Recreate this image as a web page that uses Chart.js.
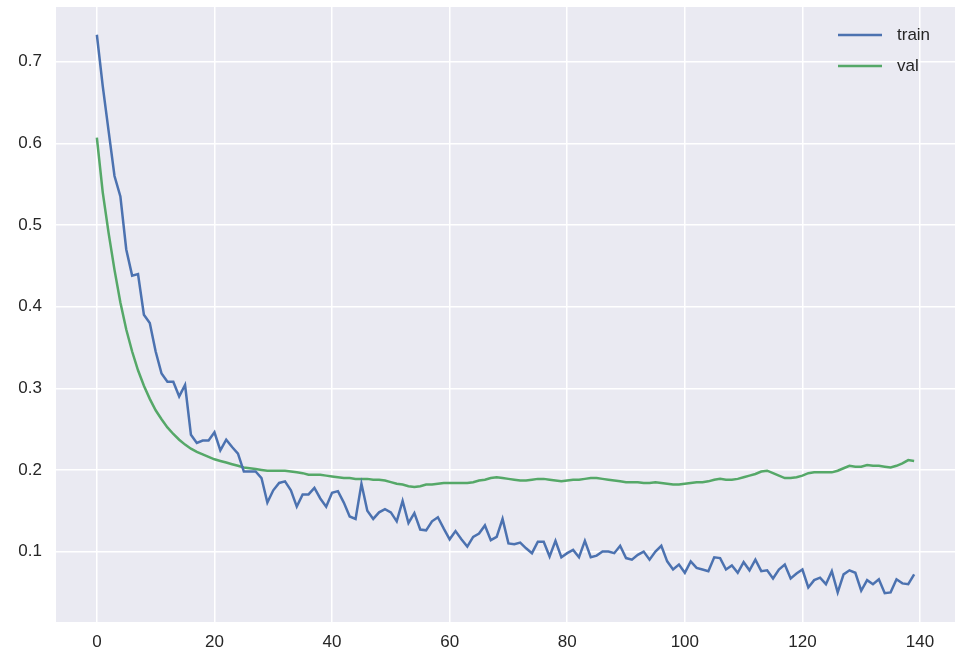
<!DOCTYPE html>
<html>
<head>
<meta charset="utf-8">
<script src="https://cdn.jsdelivr.net/npm/chart.js@4/dist/chart.umd.min.js"></script>
<style>
  html, body { margin: 0; padding: 0; background: #ffffff; }
  #wrap { width: 955px; height: 659px; }
</style>
</head>
<body>
<div id="wrap"><canvas id="chart" width="955" height="659"></canvas></div>
<script>
const xTicks = [0, 20, 40, 60, 80, 100, 120, 140];
const yTicks = [0.1, 0.2, 0.3, 0.4, 0.5, 0.6, 0.7];

const trainLoss = [
  0.733, 0.670, 0.615, 0.560, 0.535, 0.470, 0.438, 0.440, 0.390, 0.380,
  0.345, 0.318, 0.308, 0.308, 0.290, 0.304, 0.243, 0.233, 0.236, 0.236,
  0.246, 0.224, 0.237, 0.228, 0.220, 0.198, 0.198, 0.198, 0.190, 0.160,
  0.175, 0.184, 0.186, 0.175, 0.155, 0.170, 0.170, 0.178, 0.165, 0.155,
  0.172, 0.174, 0.160, 0.143, 0.140, 0.183, 0.150, 0.140, 0.148, 0.152,
  0.148, 0.137, 0.162, 0.135, 0.147, 0.127, 0.126, 0.137, 0.142, 0.128,
  0.115, 0.125, 0.115, 0.106, 0.118, 0.122, 0.132, 0.114, 0.118, 0.140,
  0.110, 0.109, 0.111, 0.104, 0.098, 0.112, 0.112, 0.094, 0.113, 0.093,
  0.098, 0.102, 0.093, 0.113, 0.093, 0.095, 0.100, 0.100, 0.098, 0.107,
  0.092, 0.090, 0.096, 0.100, 0.090, 0.100, 0.107, 0.088, 0.078, 0.084,
  0.074, 0.088, 0.080, 0.078, 0.076, 0.093, 0.092, 0.078, 0.083, 0.074,
  0.087, 0.077, 0.090, 0.076, 0.077, 0.067, 0.078, 0.084, 0.067, 0.073,
  0.078, 0.056, 0.065, 0.068, 0.060, 0.076, 0.050, 0.072, 0.077, 0.074,
  0.052, 0.065, 0.060, 0.066, 0.049, 0.050, 0.066, 0.061, 0.060, 0.072
];

const valLoss = [
  0.607, 0.540, 0.490, 0.445, 0.405, 0.372, 0.345, 0.322, 0.303, 0.287,
  0.273, 0.262, 0.252, 0.244, 0.237, 0.231, 0.226, 0.222, 0.219, 0.216,
  0.213, 0.211, 0.209, 0.207, 0.205, 0.203, 0.202, 0.201, 0.200, 0.199,
  0.199, 0.199, 0.199, 0.198, 0.197, 0.196, 0.194, 0.194, 0.194, 0.193,
  0.192, 0.191, 0.190, 0.190, 0.189, 0.189, 0.189, 0.188, 0.188, 0.187,
  0.185, 0.183, 0.182, 0.180, 0.179, 0.180, 0.182, 0.182, 0.183, 0.184,
  0.184, 0.184, 0.184, 0.184, 0.185, 0.187, 0.188, 0.190, 0.191, 0.190,
  0.189, 0.188, 0.187, 0.187, 0.188, 0.189, 0.189, 0.188, 0.187, 0.186,
  0.187, 0.188, 0.188, 0.189, 0.190, 0.190, 0.189, 0.188, 0.187, 0.186,
  0.185, 0.185, 0.185, 0.184, 0.184, 0.185, 0.184, 0.183, 0.182, 0.182,
  0.183, 0.184, 0.185, 0.185, 0.186, 0.188, 0.189, 0.188, 0.188, 0.189,
  0.191, 0.193, 0.195, 0.198, 0.199, 0.196, 0.193, 0.190, 0.190, 0.191,
  0.193, 0.196, 0.197, 0.197, 0.197, 0.197, 0.199, 0.202, 0.205, 0.204,
  0.204, 0.206, 0.205, 0.205, 0.204, 0.203, 0.205, 0.208, 0.212, 0.211
];

const seriesNames = ['train', 'val'];
const seriesColors = ['#4C72B0', '#55A868'];

const toPoints = (arr) => arr.map((v, i) => ({ x: i, y: v }));

// grey seaborn-style plot background
const plotBg = {
  id: 'plotBg',
  beforeDraw(chart) {
    const { ctx, chartArea: a } = chart;
    ctx.save();
    ctx.fillStyle = '#EAEAF2';
    ctx.fillRect(a.left, a.top, a.right - a.left, a.bottom - a.top);
    ctx.restore();
  }
};

// legend inside the axes, top right, like matplotlib
const innerLegend = {
  id: 'innerLegend',
  afterDatasetsDraw(chart) {
    const { ctx, chartArea: a } = chart;
    ctx.save();
    ctx.font = '17px "Liberation Sans", Arial, sans-serif';
    ctx.textBaseline = 'middle';
    chart.data.datasets.forEach((ds, i) => {
      const y = a.top + 28 + i * 31;
      ctx.strokeStyle = ds.borderColor;
      ctx.lineWidth = 2.5;
      ctx.beginPath();
      ctx.moveTo(838, y);
      ctx.lineTo(882, y);
      ctx.stroke();
      ctx.fillStyle = '#262626';
      ctx.fillText(ds.label, 897, y);
    });
    ctx.restore();
  }
};

new Chart(document.getElementById('chart').getContext('2d'), {
  type: 'line',
  data: {
    datasets: [
      { label: seriesNames[0], data: toPoints(trainLoss), borderColor: seriesColors[0], borderWidth: 2.5, pointRadius: 0, tension: 0 },
      { label: seriesNames[1], data: toPoints(valLoss), borderColor: seriesColors[1], borderWidth: 2.5, pointRadius: 0, tension: 0 }
    ]
  },
  options: {
    responsive: false,
    animation: false,
    layout: { autoPadding: false, padding: { top: 7, right: 0, left: 0, bottom: 0 } },
    plugins: { legend: { display: false }, tooltip: { enabled: false } },
    scales: {
      x: {
        type: 'linear',
        min: -6.95,
        max: 145.95,
        afterBuildTicks: (s) => { s.ticks = xTicks.map(v => ({ value: v })); },
        afterFit: (s) => { s.height = 37; s.paddingLeft = 0; s.paddingRight = 0; },
        grid: { color: '#ffffff', lineWidth: 1.5, drawTicks: false },
        border: { display: false },
        ticks: {
          padding: 10,
          color: '#262626',
          font: { family: '"Liberation Sans", Arial, sans-serif', size: 17 },
          maxRotation: 0
        }
      },
      y: {
        min: 0.0137,
        max: 0.767,
        afterBuildTicks: (s) => { s.ticks = yTicks.map(v => ({ value: v })); },
        afterFit: (s) => { s.width = 56; s.paddingTop = 0; s.paddingBottom = 0; },
        grid: { color: '#ffffff', lineWidth: 1.5, drawTicks: false },
        border: { display: false },
        ticks: {
          padding: 14,
          color: '#262626',
          font: { family: '"Liberation Sans", Arial, sans-serif', size: 17 },
          callback: (v) => v.toFixed(1)
        }
      }
    }
  },
  plugins: [plotBg, innerLegend]
});
</script>
</body>
</html>
